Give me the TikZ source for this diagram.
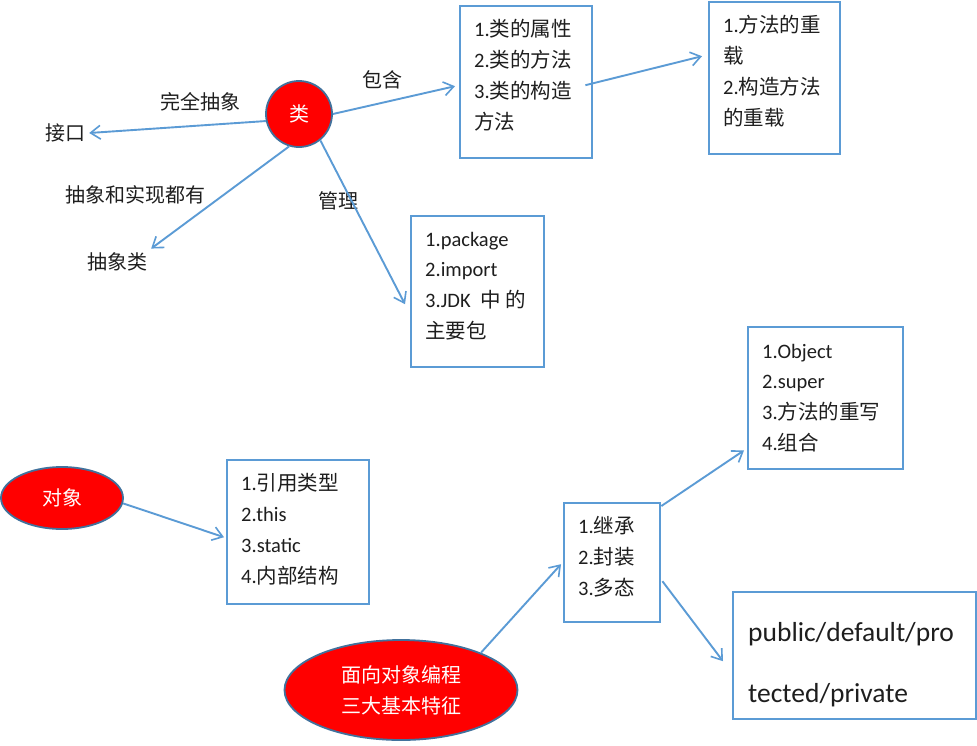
\documentclass[tikz,border=0pt]{standalone}
\usepackage{fontspec}
\setmainfont{Carlito}
\newfontfamily\cjk{Noto Sans CJK SC}
\usetikzlibrary{arrows.meta,calc,shapes.geometric}
\definecolor{lineblue}{RGB}{91,155,213}
\definecolor{rimblue}{RGB}{65,113,156}
\definecolor{txtgray}{RGB}{30,30,30}
\newcommand{\zh}[1]{{\cjk #1}}
\tikzset{
  conn/.style={draw=lineblue, line width=1.9pt, -{Straight Barb[angle=70:12pt, line width=1.6pt]}},
  boxnode/.style={draw=lineblue, line width=2.4pt, inner sep=0pt, anchor=north west},
  txt/.style={font=\fontsize{20.5}{31}\selectfont, text=txtgray, inner sep=0pt, anchor=base west},
  lbl/.style={font=\fontsize{20}{31}\selectfont\cjk, text=txtgray, inner sep=4pt},
  redshape/.style={fill=red, draw=rimblue, line width=1.8pt, text=white, font=\fontsize{20}{31}\selectfont\cjk}
}
\begin{document}
\begin{tikzpicture}[x=1pt, y=-1pt]
\useasboundingbox[fill=white] (0,0) rectangle (977,745);

% central class node
\node[redshape, circle, minimum size=66pt, inner sep=0pt] (lei) at (299,114) {类};

% labels
\node[lbl] (jiekou) at (65,133) {接口};
\node[lbl] (cxl) at (117,262) {抽象类};
\node[lbl] (lwqcx) at (200,102) {完全抽象};
\node[lbl] (lcxsx) at (135,195) {抽象和实现都有};
\node[lbl] (lgl) at (338,201) {管理};
\node[lbl] (lbh) at (382,80) {包含};

% box 1
\node[boxnode, minimum width=132pt, minimum height=152pt] (b1) at (459,5) {};
\foreach \t [count=\i] in {{1.\zh{类的属性}},{2.\zh{类的方法}},{3.\zh{类的构造}},{\zh{方法}}}
  \node[txt] (b1-\i) at (474,{36+31*(\i-1)}) {\t};

% box 2
\node[boxnode, minimum width=131pt, minimum height=152pt] (b2) at (708,1) {};
\foreach \t [count=\i] in {{1.\zh{方法的重}},{\zh{载}},{2.\zh{构造方法}},{\zh{的重载}}}
  \node[txt] (b2-\i) at (723,{32+31*(\i-1)}) {\t};

% box 3
\node[boxnode, minimum width=133pt, minimum height=151pt] (b3) at (410,215) {};
\foreach \t [count=\i] in {{1.package},{2.import},{3.JDK\ \ \zh{中}\ \zh{的}},{\zh{主要包}}}
  \node[txt] (b3-\i) at (425,{246+30.7*(\i-1)}) {\t};

% box 4
\node[boxnode, minimum width=155pt, minimum height=142pt] (b4) at (747,326) {};
\foreach \t [count=\i] in {{1.Object},{2.super},{3.\zh{方法的重写}},{4.\zh{组合}}}
  \node[txt] (b4-\i) at (762,{358+30.7*(\i-1)}) {\t};

% object ellipse and box 5
\node[redshape, ellipse, minimum width=122pt, minimum height=62pt, inner sep=0pt] (dx) at (62,498) {对象};
\node[boxnode, minimum width=142pt, minimum height=144pt] (b5) at (226,459) {};
\foreach \t [count=\i] in {{1.\zh{引用类型}},{2.this},{3.static},{4.\zh{内部结构}}}
  \node[txt] (b5-\i) at (241,{490+31*(\i-1)}) {\t};

% OOP ellipse
\node[redshape, ellipse, minimum width=233pt, minimum height=100pt, inner sep=0pt, align=center] (oop) at (401,690) {面向对象编程\\三大基本特征};

% box 6
\node[boxnode, minimum width=96pt, minimum height=119pt] (b6) at (563,502) {};
\foreach \t [count=\i] in {{1.\zh{继承}},{2.\zh{封装}},{3.\zh{多态}}}
  \node[txt] (b6-\i) at (578,{533+31*(\i-1)}) {\t};

% box 7
\node[boxnode, minimum width=243pt, minimum height=127pt] (b7) at (732,591) {};
\node[txt, font=\fontsize{27.5}{30}\selectfont] (b7-1) at (748,641) {public/default/pro};
\node[txt, font=\fontsize{27.5}{30}\selectfont] (b7-2) at (748,702) {tected/private};

% connectors
\draw[conn] (lei.192) -- (jiekou.east);
\draw[conn] (lei.253) -- (cxl.north east);
\draw[conn] (lei.309) -- ($(b3.west)+(-5,12.5)$);
\draw[conn] (lei.east) -- ($(b1.west)+(-4,4)$);
\draw[conn] ($(b1.east)+(-8,3)$) -- ($(b2.west)+(-6,-22)$);
\draw[conn] (dx.355) -- ($(b5.west)+(-2,5)$);
\draw[conn] (oop.25) -- ($(b6.west)+(-2,1.5)$);
\draw[conn] ($(b6.north east)+(0,4)$) -- ($(b4.south west)+(-3,-20)$);
\draw[conn] ($(b6.east)+(1,18.5)$) -- ($(b7.west)+(-9,5.5)$);
\end{tikzpicture}
\end{document}
